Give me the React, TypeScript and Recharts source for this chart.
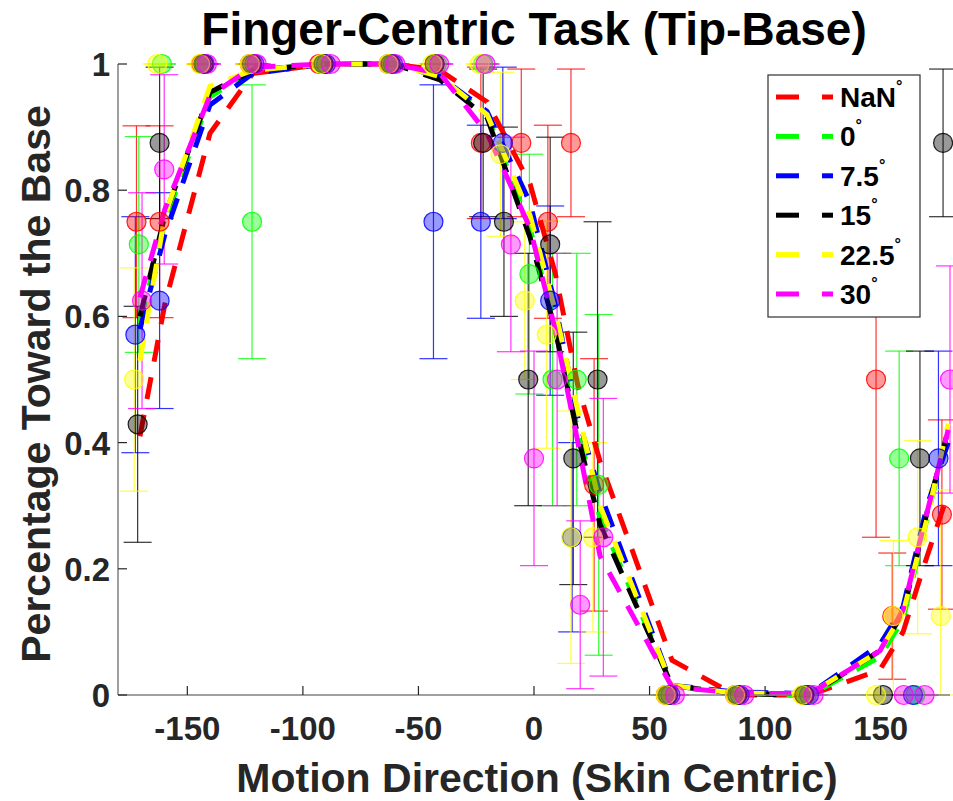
import React from 'react';
import { ComposedChart, Scatter, Line, XAxis, YAxis, ErrorBar } from 'recharts';

const FONT = '"Liberation Sans", Arial, Helvetica, sans-serif';
const INK = '#262626';

const SERIES_LABELS = ['NaN', '0', '7.5', '15', '22.5', '30'];
const SERIES_COLORS = ['#ff0000', '#00ff00', '#0000ff', '#000000', '#ffff00', '#ff00ff'];

const X_TICKS = [-150, -100, -50, 0, 50, 100, 150];
const Y_TICKS = [0, 0.2, 0.4, 0.6, 0.8, 1];

// fitted psychometric curves, one y per direction in CURVE_X
const CURVE_X = [-170.5, -159.7, -140.2, -121.6, -90.4, -61.0, -40.7, -20.3, -1.7, 9.1, 19.0, 28.6, 59.7, 87.0, 119.4, 149.7, 159.7, 170.1, 179.2];
const CURVE_NAN = [0.41, 0.62, 0.89, 0.985, 1.0, 1.0, 0.99, 0.94, 0.81, 0.67, 0.49, 0.37, 0.055, 0.0, 0.0, 0.04, 0.10, 0.22, 0.32];
const CURVE_0 = [0.59, 0.75, 0.948, 0.99, 1.0, 1.0, 0.98, 0.92, 0.74, 0.58, 0.42, 0.28, 0.015, 0.003, 0.0, 0.06, 0.12, 0.28, 0.42];
const CURVE_7_5 = [0.58, 0.73, 0.935, 0.985, 1.0, 1.0, 0.98, 0.925, 0.78, 0.62, 0.44, 0.32, 0.015, 0.005, 0.002, 0.08, 0.14, 0.30, 0.40];
const CURVE_15 = [0.6, 0.76, 0.955, 0.99, 1.0, 1.0, 0.975, 0.915, 0.725, 0.58, 0.41, 0.27, 0.015, 0.002, 0.0, 0.07, 0.13, 0.29, 0.42];
const CURVE_22_5 = [0.53, 0.76, 0.965, 0.99, 1.0, 1.0, 0.98, 0.92, 0.76, 0.61, 0.45, 0.30, 0.015, 0.003, 0.002, 0.07, 0.13, 0.28, 0.43];
const CURVE_30 = [0.63, 0.77, 0.95, 0.995, 1.0, 1.0, 0.985, 0.89, 0.74, 0.58, 0.40, 0.22, 0.013, 0.003, 0.002, 0.07, 0.135, 0.29, 0.42];

// observed responses: [direction, proportion, error]
type Obs = [number, number, number];
const OBS_NAN: Obs[] = [
  [-172, 0.75, 0.152], [-162, 0.75, 0.152], [-144, 1, 0], [-123, 1, 0], [-93, 1, 0], [-63, 1, 0],
  [-43, 1, 0], [-23, 0.875, 0.12], [-5.5, 0.875, 0.117], [6, 0.75, 0.153], [16, 0.875, 0.117],
  [26, 0.333, 0.2], [57, 0, 0], [87, 0, 0], [117, 0, 0], [148, 0.5, 0.25], [155, 0.125, 0.1],
  [176.5, 0.286, 0.15],
];
const OBS_0: Obs[] = [
  [-171, 0.714, 0.171], [-161, 1, 0], [-143, 1, 0], [-122, 0.75, 0.217], [-91, 1, 0], [-62, 1, 0],
  [-42, 1, 0], [-22, 1, 0], [-2, 0.667, 0.19], [8, 0.5, 0.2], [18.5, 0.5, 0.2], [28, 0.333, 0.27],
  [58, 0, 0], [88, 0, 0], [118, 0, 0], [158, 0.375, 0.17], [165, 0, 0],
];
const OBS_7_5: Obs[] = [
  [-172.5, 0.571, 0.187], [-162, 0.625, 0.171], [-142.5, 1, 0], [-121, 1, 0], [-90, 1, 0], [-61, 1, 0],
  [-43.5, 0.75, 0.217], [-23, 0.75, 0.153], [-13.5, 0.875, 0.12], [7, 0.625, 0.15], [16.5, 0.25, 0.15],
  [59, 0, 0], [89, 0, 0], [119, 0, 0], [164, 0, 0], [175, 0.375, 0.17],
];
const OBS_15: Obs[] = [
  [-171.5, 0.429, 0.187], [-162, 0.875, 0.12], [-143, 1, 0], [-122, 1, 0], [-91, 1, 0], [-62, 1, 0],
  [-43, 1, 0], [-22, 0.875, 0.117], [-13, 0.75, 0.15], [-2.5, 0.5, 0.2], [7, 0.714, 0.17],
  [17, 0.375, 0.2], [27.5, 0.5, 0.25], [58, 0, 0], [88, 0, 0], [117, 0, 0], [151, 0, 0],
  [167, 0.375, 0.17], [177, 0.875, 0.117],
];
const OBS_22_5: Obs[] = [
  [-173, 0.5, 0.177], [-163, 1, 0], [-144.5, 1, 0], [-123, 1, 0], [-92, 1, 0], [-63, 1, 0],
  [-44, 1, 0], [-23.5, 1, 0], [-14.5, 0.857, 0.13], [-4, 0.625, 0.125], [5.5, 0.571, 0.18],
  [16, 0.25, 0.2], [25.5, 0.25, 0.15], [57, 0, 0], [87, 0, 0], [116, 0, 0], [148, 0, 0],
  [155.5, 0.125, 0.12], [166, 0.25, 0.153], [176, 0.125, 0.2],
];
const OBS_30: Obs[] = [
  [-169.6, 0.625, 0.171], [-160, 0.833, 0.15], [-141.5, 1, 0], [-120, 1, 0], [-88, 1, 0], [-60, 1, 0],
  [-41, 1, 0], [-21, 1, 0], [-10, 0.714, 0.17], [0, 0.375, 0.17], [10, 0.5, 0.2], [20, 0.143, 0.133],
  [30, 0.25, 0.22], [61, 0, 0], [91, 0, 0], [121, 0, 0], [160, 0, 0], [169, 0, 0], [180, 0.5, 0.18],
];

const CURVES = [CURVE_NAN, CURVE_0, CURVE_7_5, CURVE_15, CURVE_22_5, CURVE_30];
const OBSERVATIONS = [OBS_NAN, OBS_0, OBS_7_5, OBS_15, OBS_22_5, OBS_30];

const curveData = (ys: number[]) => CURVE_X.map((x, i) => ({ x, y: ys[i] }));
// error bars stop at the 0..1 axis limits
const obsData = (rows: Obs[]) =>
  rows.map(([x, y, e]) => ({ x, y, e: [Math.min(e, y), Math.min(e, 1 - y)] }));

const XTick = (props: any) => {
  const { x, y, payload } = props;
  return (
    <g>
      <line x1={x} x2={x} y1={y} y2={y - 9} stroke={INK} strokeWidth={1.2} />
      <text x={x} y={y + 45} textAnchor="middle" fontFamily={FONT} fontWeight="bold" fontSize={33} fill={INK}>
        {payload.value}
      </text>
    </g>
  );
};

const YTick = (props: any) => {
  const { x, y, payload } = props;
  return (
    <g>
      <line x1={x} x2={x + 9} y1={y} y2={y} stroke={INK} strokeWidth={1.2} />
      <text x={x - 8} y={y + 12} textAnchor="end" fontFamily={FONT} fontWeight="bold" fontSize={33} fill={INK}>
        {payload.value}
      </text>
    </g>
  );
};

const bubble = (color: string) => (p: any) => (
  <circle cx={p.cx} cy={p.cy} r={9.5} fill={color} fillOpacity={0.4} stroke={color} strokeOpacity={0.85} strokeWidth={1.2} />
);

const LegendBox = () => (
  <g>
    <rect x={768} y={75} width={152} height={242} fill="#fff" stroke="#404040" strokeWidth={1.3} />
    {SERIES_LABELS.map((label, i) => {
      const cy = 97 + i * 39.4;
      const color = SERIES_COLORS[i];
      return (
        <g key={label}>
          <line x1={776} x2={799} y1={cy} y2={cy} stroke={color} strokeWidth={5} />
          <line x1={822} x2={833} y1={cy} y2={cy} stroke={color} strokeWidth={5} />
          <text x={840} y={cy + 10} fontFamily={FONT} fontWeight="bold" fontSize={28} fill="#000">
            {label}
            <tspan dy={-15} fontSize={16}>°</tspan>
          </text>
        </g>
      );
    })}
  </g>
);

export default function App() {
  return (
    <div style={{ position: 'absolute', left: 0, top: 0, width: 953, height: 801, background: '#fff' }}>
      <ComposedChart width={953} height={801} margin={{ top: 64, right: 3, bottom: 76, left: 58 }}>
        <XAxis
          type="number"
          dataKey="x"
          domain={[-180, 180]}
          ticks={X_TICKS}
          height={30}
          tickSize={0}
          tickMargin={0}
          tickLine={false}
          tick={<XTick />}
          axisLine={{ stroke: '#7f7f7f', strokeWidth: 1.5 }}
        />
        <YAxis
          type="number"
          domain={[0, 1]}
          ticks={Y_TICKS}
          width={60}
          tickSize={0}
          tickMargin={0}
          tickLine={false}
          tick={<YTick />}
          axisLine={{ stroke: '#7f7f7f', strokeWidth: 1.5 }}
        />
        {OBSERVATIONS.map((rows, i) => (
          <Scatter
            key={`obs-${i}`}
            data={obsData(rows)}
            dataKey="y"
            shape={bubble(SERIES_COLORS[i])}
            isAnimationActive={false}
          >
            <ErrorBar dataKey="e" direction="y" width={14} stroke={SERIES_COLORS[i]} strokeWidth={1.2} strokeOpacity={0.8} />
          </Scatter>
        ))}
        {CURVES.map((ys, i) => (
          <Line
            key={`fit-${i}`}
            data={curveData(ys)}
            dataKey="y"
            type="linear"
            stroke={SERIES_COLORS[i]}
            strokeWidth={5}
            strokeDasharray="22 16"
            dot={false}
            activeDot={false}
            isAnimationActive={false}
          />
        ))}
      </ComposedChart>
      <svg width={953} height={801} style={{ position: 'absolute', left: 0, top: 0, pointerEvents: 'none' }}>
        <text x={534} y={45} textAnchor="middle" fontFamily={FONT} fontWeight="bold" fontSize={46} fill="#000">
          Finger-Centric Task (Tip-Base)
        </text>
        <text x={537} y={792} textAnchor="middle" fontFamily={FONT} fontWeight="bold" fontSize={41} fill={INK}>
          Motion Direction (Skin Centric)
        </text>
        <text transform="translate(50,384) rotate(-90)" textAnchor="middle" fontFamily={FONT} fontWeight="bold" fontSize={41} fill={INK}>
          Percentage Toward the Base
        </text>
        <LegendBox />
      </svg>
    </div>
  );
}
